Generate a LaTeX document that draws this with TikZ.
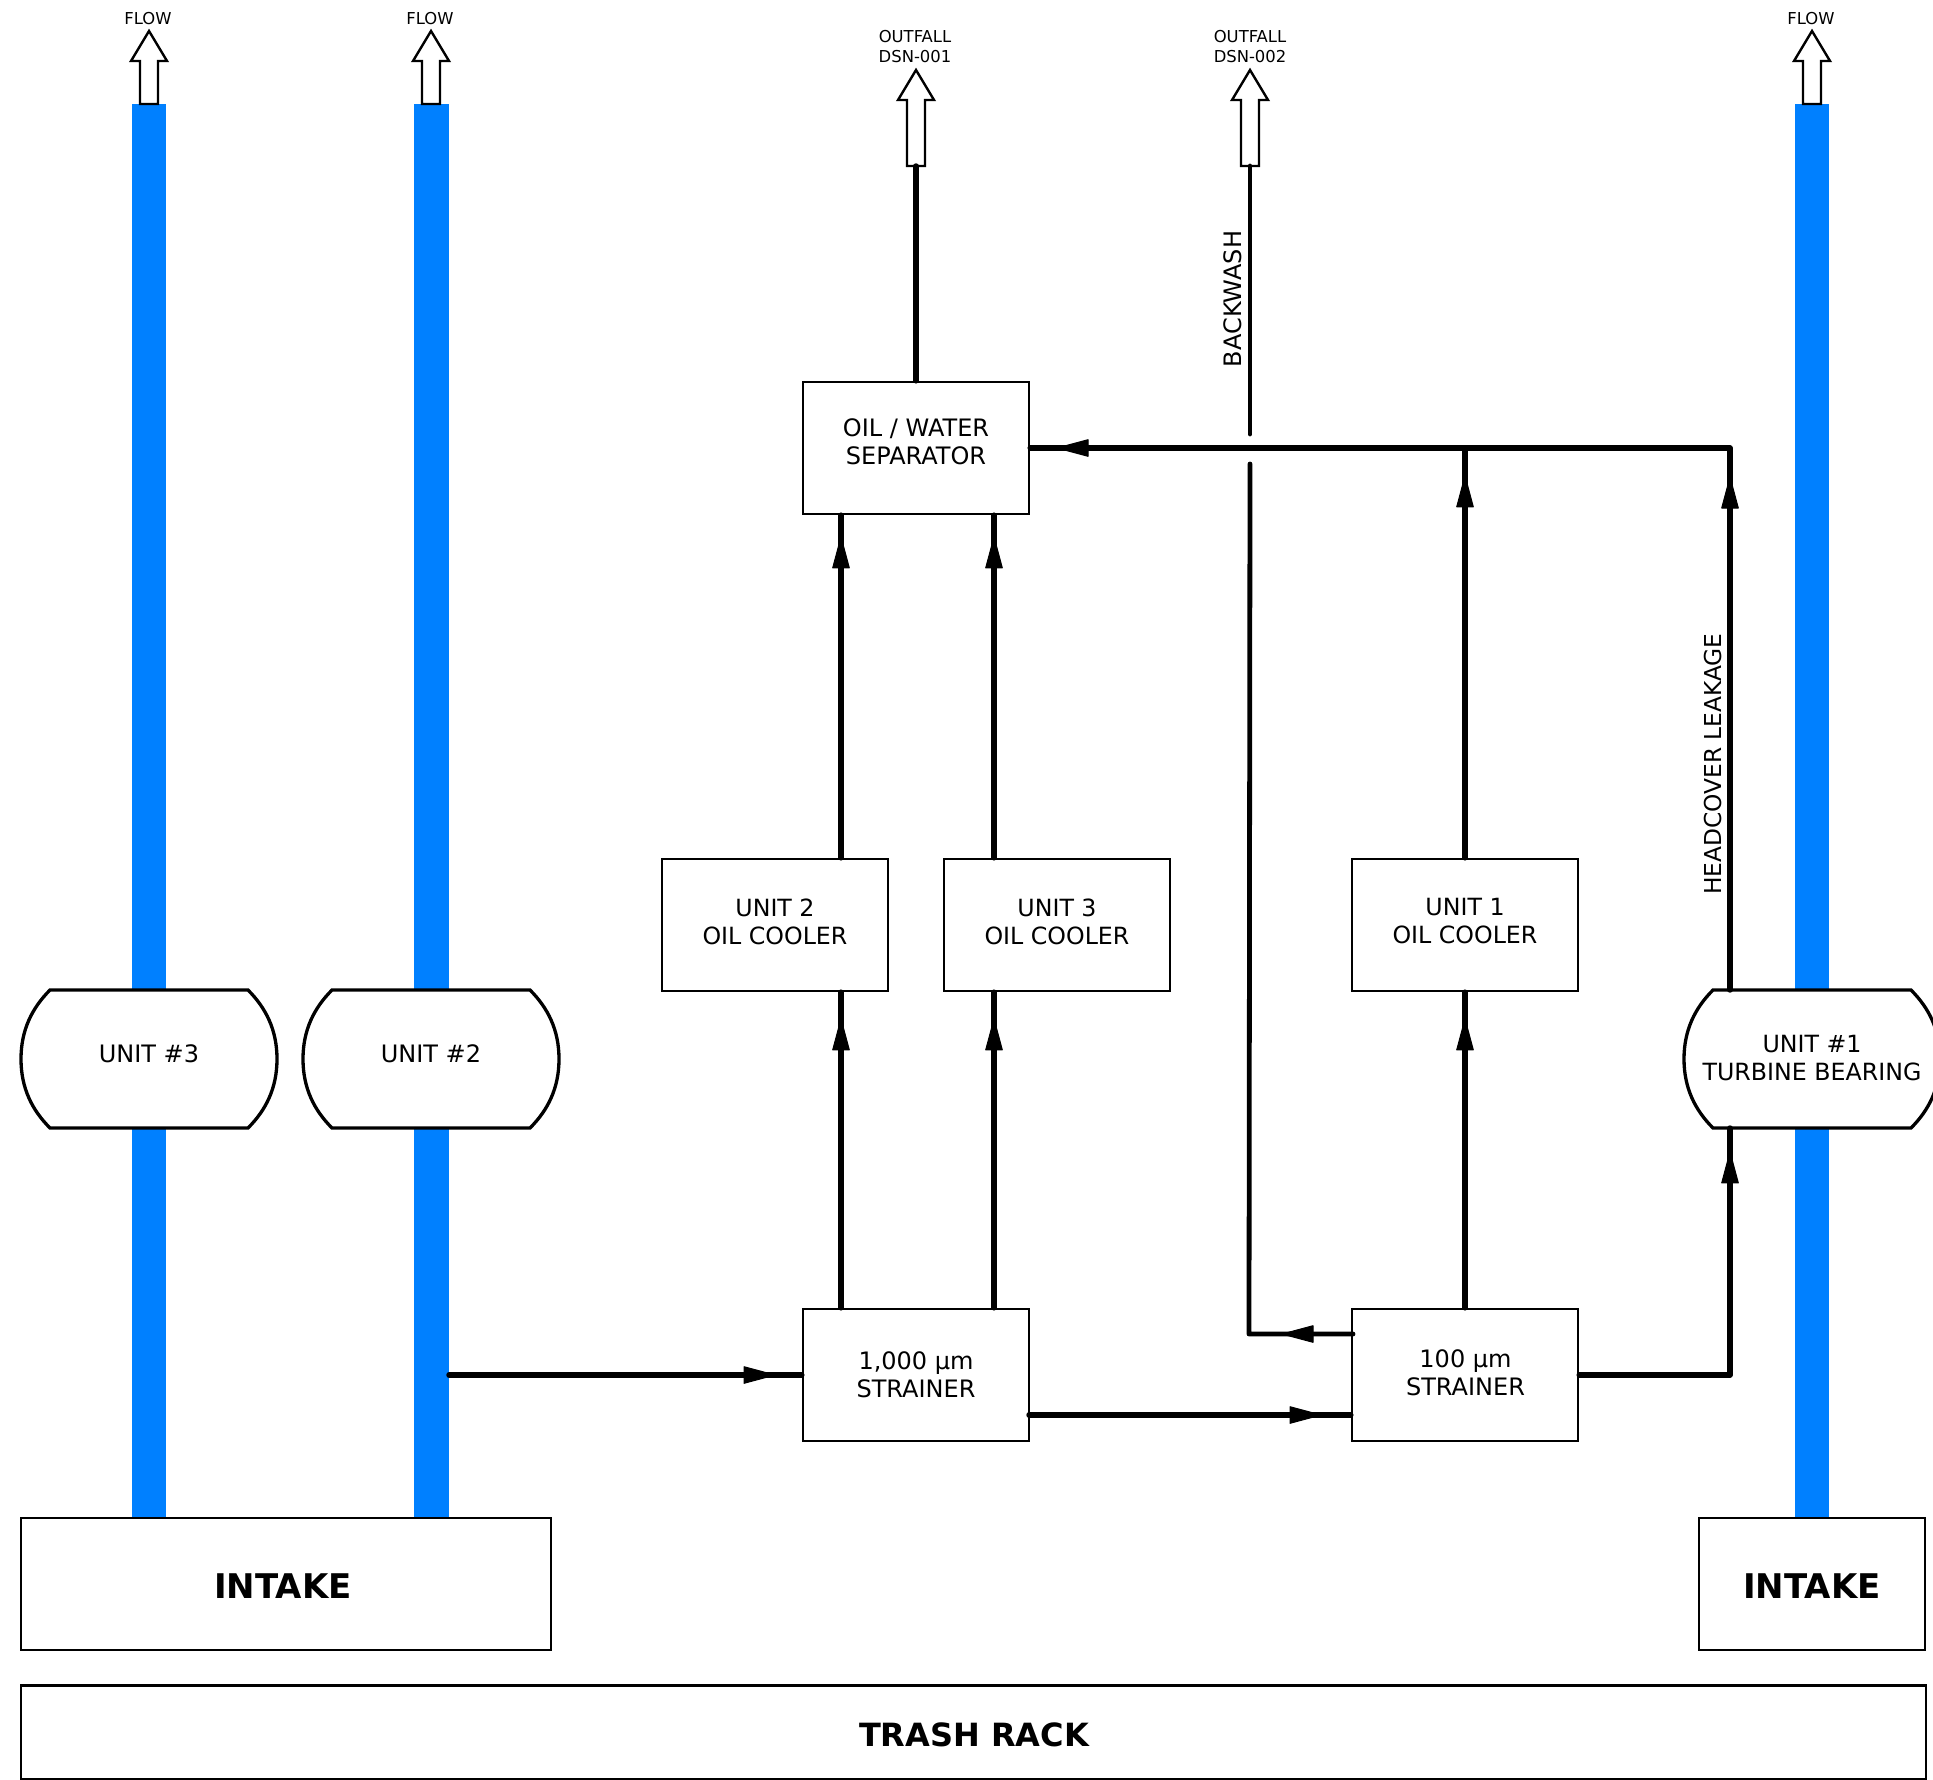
\documentclass[tikz,border=0pt]{standalone}
\usepackage{fontspec}
\setmainfont{DejaVu Sans}
\usetikzlibrary{decorations.markings}
\definecolor{blue1}{HTML}{0080FF}
\newcommand{\headshape}{\filldraw[line width=1pt,line join=round,black] (0pt,-8.3pt) -- (31pt,0pt) -- (0pt,8.3pt) -- cycle;}
\begin{document}
\begin{tikzpicture}[x=1pt,y=-1pt,
  pipe/.style={line width=5.4pt,line cap=round,line join=round},
  thinpipe/.style={line width=4.8pt,line cap=round,line join=round},
  tipat/.style={postaction={decorate,decoration={markings,mark=at position #1 with {\headshape}}}},
  tiptwo/.style 2 args={postaction={decorate,decoration={markings,mark=at position #1 with {\headshape},mark=at position #2 with {\headshape}}}},
  box/.style={draw,line width=2.3pt,fill=white,minimum width=226pt,minimum height=132pt},
  boxtext/.style={font=\fontsize{24}{28}\selectfont,align=center,inner sep=0pt},
  coolertext/.style={font=\fontsize{23.7}{28}\selectfont,align=center,inner sep=0pt},
  bigtext/.style={font=\fontsize{34}{38}\selectfont\bfseries,inner sep=0pt},
  small/.style={font=\fontsize{16.4}{20}\selectfont,align=center,inner sep=0pt},
  hollow/.style={draw,line width=2.4pt,fill=white},
  unitshape/.style={fill=white,line width=3.3pt}]
\useasboundingbox (0,0) rectangle (1933,1780);
\fill[white] (0,0) rectangle (1933,1780);
% blue streams
\fill[blue1] (132,104) rectangle (166,1520);
\fill[blue1] (414,104) rectangle (449,1520);
\fill[blue1] (1795,104) rectangle (1829,1520);
% hollow arrows
\foreach \cx/\ty/\by in {149/31/104, 431/31/104, 1812/31/104, 916/70/166, 1250/70/166}{
  \filldraw[hollow] (\cx-9,\by) -- (\cx-9,\ty+30) -- (\cx-18,\ty+30) -- (\cx,\ty) -- (\cx+18,\ty+30) -- (\cx+9,\ty+30) -- (\cx+9,\by) -- cycle;
}
\node[small] (f3) at (148,19) {FLOW};
\node[small] (f2) at (430,19) {FLOW};
\node[small] (f1) at (1811,19) {FLOW};
\node[small] (o1) at (915,46.5) {OUTFALL\\DSN-001};
\node[small] (o2) at (1250,46.5) {OUTFALL\\DSN-002};
\coordinate (a1) at (916,166);
\coordinate (a2) at (1250,166);
% boxes
\node[box] (sep) at (916,448) {};
\node[boxtext] (sept) at (916,442) {OIL / WATER\\SEPARATOR};
\node[box] (c2) at (775.3,925) {};
\node[coolertext] (c2t) at (775,921.5) {UNIT 2\\OIL COOLER};
\node[box] (c3) at (1057.3,925) {};
\node[coolertext] (c3t) at (1057,921.5) {UNIT 3\\OIL COOLER};
\node[box] (c1) at (1465,925) {};
\node[coolertext] (c1t) at (1465,921.5) {UNIT 1\\OIL COOLER};
\node[box] (s1) at (916,1375) {};
\node[boxtext] (s1t) at (916,1375) {1,000 µm\\STRAINER};
\node[box] (s2) at (1465,1375) {};
\node[boxtext] (s2t) at (1465.5,1372.5) {100 µm\\STRAINER};
\node[box,minimum width=530pt] (i1) at (286,1584) {};
\node[bigtext] (i1t) at (283,1586) {INTAKE};
\node[box] (i2) at (1812,1584) {};
\node[bigtext] (i2t) at (1812,1586) {INTAKE};
\node[box,minimum width=1905pt,minimum height=94pt] (tr) at (973.5,1732.5) {};
\node[bigtext,font=\fontsize{32}{38}\selectfont\bfseries] (trt) at (974,1735) {TRASH RACK};
% units
\foreach \cx in {149,431,1812}{
  \filldraw[unitshape] (\cx-99,990) -- (\cx+99,990) .. controls (\cx+117,1008) and (\cx+128,1030) .. (\cx+128,1059) .. controls (\cx+128,1088) and (\cx+117,1110) .. (\cx+99,1128) -- (\cx-99,1128) .. controls (\cx-117,1110) and (\cx-128,1088) .. (\cx-128,1059) .. controls (\cx-128,1030) and (\cx-117,1008) .. (\cx-99,990) -- cycle;
}
\node[boxtext] (u3) at (149,1054) {UNIT \#3};
\node[boxtext] (u2) at (431,1054) {UNIT \#2};
\node[coolertext] (u1) at (1812,1058) {UNIT \#1\\TURBINE BEARING};
% labels
\node[boxtext,rotate=90] (bw) at (1233,299) {BACKWASH};
\node[boxtext,font=\fontsize{23.3}{28}\selectfont,rotate=90] (hc) at (1713,764) {HEADCOVER LEAKAGE};
% routing coordinates
\coordinate (xa) at (841,0);
\coordinate (xb) at (994,0);
\coordinate (xr) at (1730,0);
\coordinate (u1top) at (1730,990);
\coordinate (u1bot) at (1730,1128);
\coordinate (hcorner) at (1730,448);
\coordinate (tap) at (449,1375);
\coordinate (bwa) at (1250,434);
\coordinate (bwb) at (1250,464);
\coordinate (bwc) at (1249,1334);
\coordinate (s2w) at (1353,1334);
% pipes
\draw[pipe] (sep.north) -- (a1);
\draw[thinpipe] (bwa) -- (a2);
\draw[thinpipe,tipat=40pt] (s2w) -- (bwc) -- (bwb);
\draw[pipe,tipat=258pt] (s1.north -| xa) -- (c2.south -| xa);
\draw[pipe,tipat=258pt] (s1.north -| xb) -- (c3.south -| xb);
\draw[pipe,tipat=290pt] (c2.north -| xa) -- (sep.south -| xa);
\draw[pipe,tipat=290pt] (c3.north -| xb) -- (sep.south -| xb);
\draw[pipe,tipat=258pt] (s2.north) -- (c1.south);
\draw[pipe,tipat=351pt] (c1.north) -- (c1.north |- sep.east);
\draw[pipe,tiptwo={482pt}{1184pt}] (u1top) -- (hcorner) -- (sep.east);
\draw[pipe,tipat=343pt] (s2.east) -- (s2.east -| xr) -- (u1bot);
\draw[pipe,tipat=295pt] (tap) -- (s1.west);
\coordinate (s1out) at (1029,1415);
\draw[pipe,tipat=261pt] (s1out) -- (s1out -| s2.west);
\end{tikzpicture}
\end{document}
